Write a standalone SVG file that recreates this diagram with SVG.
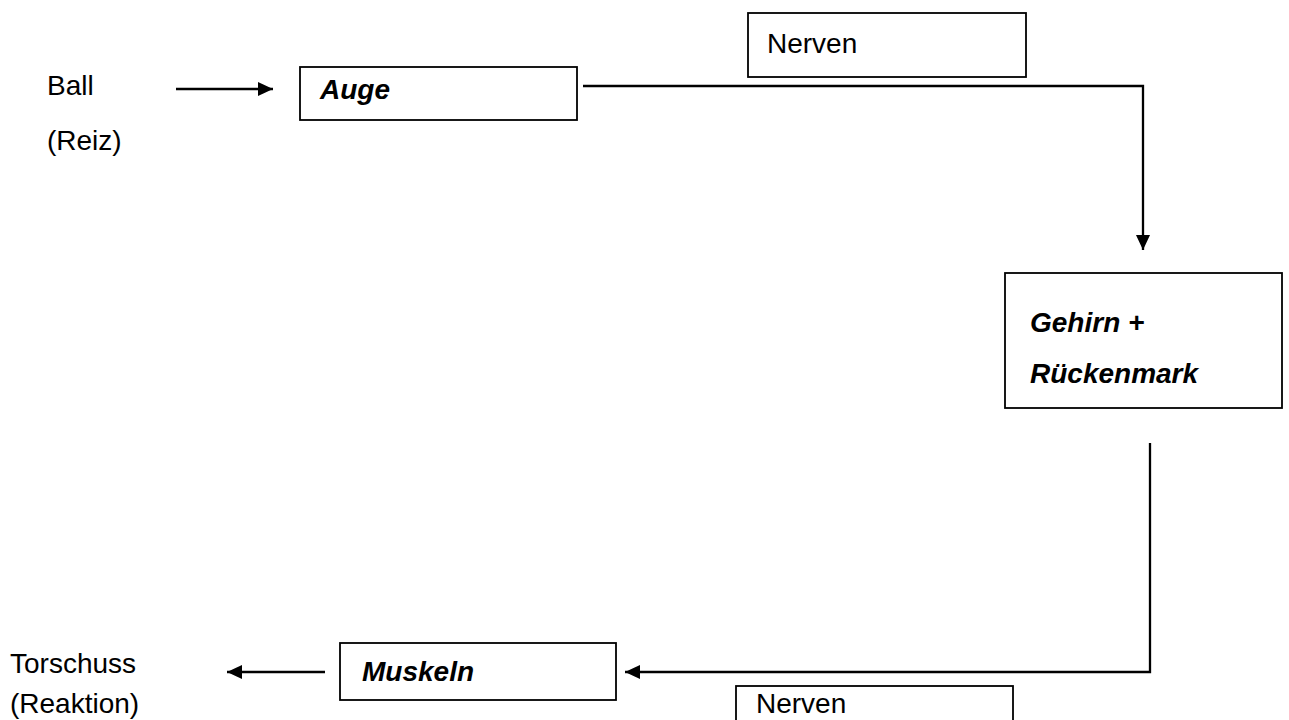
<svg xmlns="http://www.w3.org/2000/svg" width="1289" height="720" viewBox="0 0 1289 720">
<defs>
<marker id="ah" markerWidth="16" markerHeight="14" refX="15" refY="7" orient="auto" markerUnits="userSpaceOnUse" viewBox="0 0 15 14">
<path d="M0,0 L15,7 L0,14 Z" fill="#000"/>
</marker>
<style>
.t{font-family:"Liberation Sans",Arial,sans-serif;font-size:28px;fill:#000}
.b{font-weight:bold;font-style:italic}
.box{fill:#fff;stroke:#000;stroke-width:1.8}
.ln{fill:none;stroke:#000;stroke-width:2.3}
</style>
</defs>
<rect width="1289" height="720" fill="#fff"/>
<g id="connectors">
<line class="ln" x1="176" y1="89" x2="273" y2="89" marker-end="url(#ah)"/>
<polyline class="ln" points="583,86 1143,86 1143,250" marker-end="url(#ah)"/>
<polyline class="ln" points="1150,443 1150,672 625,672" marker-end="url(#ah)"/>
<line class="ln" x1="325" y1="672" x2="227" y2="672" marker-end="url(#ah)"/>
</g>
<g id="ball"><text class="t" x="47" y="95">Ball</text><text class="t" x="47" y="150">(Reiz)</text></g>
<g id="auge"><rect class="box" x="300" y="67" width="277" height="53"/><text class="t b" x="320" y="99">Auge</text></g>
<g id="nerven1"><rect class="box" x="748" y="13" width="278" height="64"/><text class="t" x="767" y="53">Nerven</text></g>
<g id="gehirn"><rect class="box" x="1005" y="273" width="277" height="135"/><text class="t b" x="1030" y="332">Gehirn +</text><text class="t b" x="1030" y="383">Rückenmark</text></g>
<g id="muskeln"><rect class="box" x="340" y="643" width="276" height="57"/><text class="t b" x="362" y="681">Muskeln</text></g>
<g id="nerven2"><rect class="box" x="736" y="686" width="277" height="50"/><text class="t" x="756" y="713">Nerven</text></g>
<g id="torschuss"><text class="t" x="10" y="673">Torschuss</text><text class="t" x="10" y="713">(Reaktion)</text></g>
</svg>
